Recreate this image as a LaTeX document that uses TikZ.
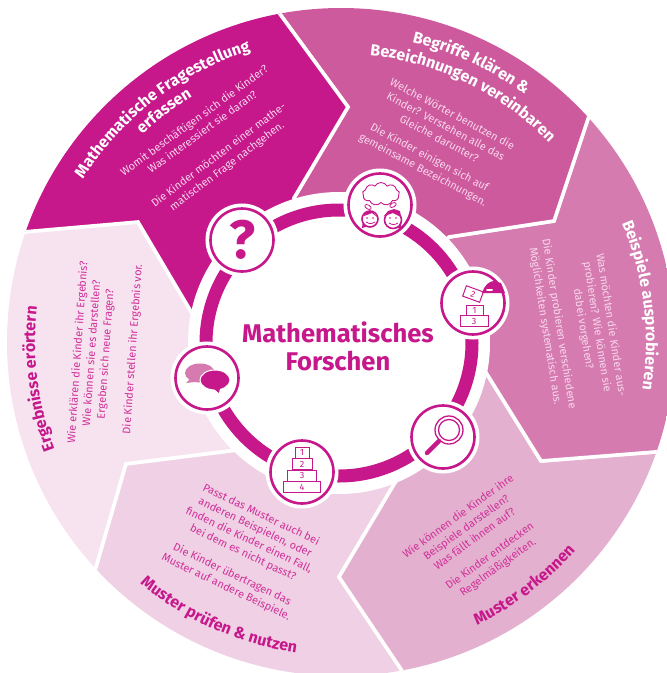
\documentclass[tikz,border=0pt]{standalone}
\usepackage{fontspec}
\setmainfont{Fira Sans}
\usetikzlibrary{decorations.text,shapes.symbols}
\definecolor{magA}{HTML}{C6178B}
\definecolor{magB}{HTML}{CE5A9E}
\definecolor{magC}{HTML}{D67BB0}
\definecolor{magD}{HTML}{E4B0CF}
\definecolor{magE}{HTML}{EFD0E4}
\definecolor{magF}{HTML}{F6E3EF}
\definecolor{inkA}{HTML}{F8D8EC}
\definecolor{inkB}{HTML}{D02F98}
\tikzset{
  segment/.style={draw=white,line width=3.6pt,line join=miter},
  bodytext/.style={align=center,font=\fontsize{10.9}{14}\selectfont,inner sep=0pt},
  arctitle/.style 2 args={decorate,decoration={text along path,text align=center,
    text={|\fontsize{16}{18}\selectfont\bfseries\color{#1}|#2}}},
  iconcircle/.style={circle,fill=white,draw=magA,line width=2.6pt,minimum size=63pt,inner sep=0pt,
    preaction={draw=white,line width=10pt}},
  iconbox/.style={draw=magA,line width=1pt,fill=white,inner sep=0pt,text=magA,font=\fontsize{9}{9}\selectfont},
}
\begin{document}
\begin{tikzpicture}[x=1pt,y=-1pt]
  \useasboundingbox (0,0) rectangle (667,673);
  \coordinate (c) at (339,343);
  \coordinate (o) at (341,342);
  \begin{scope}
    \clip (o) circle (334);
    \draw[segment,fill=magF] (c) -- (193,315) -- (138,222) -- (0,234) -- (-20,400) -- (88,595) -- (126,464) -- (238,450) -- cycle;
    \draw[segment,fill=magE] (c) -- (238,450) -- (126,464) -- (88,595) -- (200,720) -- (415,690) -- (339,577) -- (396,481) -- cycle;
    \draw[segment,fill=magD] (c) -- (396,481) -- (339,577) -- (415,690) -- (620,700) -- (680,450) -- (541,461) -- (485,371) -- cycle;
    \draw[segment,fill=magC] (c) -- (485,371) -- (541,461) -- (680,450) -- (700,270) -- (595,98) -- (554,221) -- (449,237) -- cycle;
    \draw[segment,fill=magB] (c) -- (449,237) -- (554,221) -- (595,98) -- (520,-10) -- (266,-5) -- (348,107) -- (294,198) -- cycle;
    \draw[segment,fill=magA] (c) -- (294,198) -- (348,107) -- (266,-5) -- (60,10) -- (0,234) -- (138,222) -- (193,315) -- cycle;
  \end{scope}
  % middle disc
  \fill[white] (c) circle (151);
  \draw[magA,line width=13pt] (c) circle (133);
  \node[font=\fontsize{25.6}{28}\selectfont\bfseries,text=magA,align=center,inner sep=0pt] (centre) at (338,346) {Mathematisches\\Forschen};
  % titles
  \path[arctitle={white}{Mathematische Fragestellung}] (o) ++(-152:305) arc (-152:-103:305);
  \path[arctitle={white}{erfassen}] (o) ++(-152:287) arc (-152:-103:287);
  \path[arctitle={white}{Begriffe klären {\&}}] (o) ++(-90:308) arc (-90:-40:308);
  \path[arctitle={white}{Bezeichnungen vereinbaren}] (o) ++(-90:288) arc (-90:-38:288);
  \path[arctitle={white}{Beispiele ausprobieren}] (o) ++(-32:305) arc (-32:18:305);
  \path[arctitle={magA}{Muster erkennen}] (o) ++(78:314) arc (78:28:314);
  \path[arctitle={magA}{Muster prüfen {\&} nutzen}] (o) ++(139:314) arc (139:89:314);
  \path[arctitle={magA}{Ergebnisse erörtern}] (o) ++(148:306) arc (148:198:306);
  % body texts
  \node[bodytext,text=inkA,rotate=36] (frageA) at (198,126) {Womit beschäftigen sich die Kinder?\\Was interessiert sie daran?};
  \node[bodytext,text=inkA,rotate=37] (frageB) at (223,161) {Die Kinder möchten einer mathe-\\matischen Frage nachgehen.};
  \node[bodytext,text=inkA,rotate=-28] (begriffA) at (446,126) {Welche Wörter benutzen die\\Kinder? Verstehen alle das\\Gleiche darunter?};
  \node[bodytext,text=inkA,rotate=-28] (begriffB) at (426,164) {Die Kinder einigen sich auf\\gemeinsame Bezeichnungen.};
  \node[bodytext,text=inkA,rotate=-81] (beispielA) at (597,327) {Was möchten die Kinder aus-\\probieren? Wie können sie\\dabei vorgehen?};
  \node[bodytext,text=inkA,rotate=-81] (beispielB) at (552,325) {Die Kinder probieren verschiedene\\Möglichkeiten systematisch aus.};
  \node[bodytext,text=inkB,rotate=36] (musterA) at (466,527) {Wie können die Kinder ihre\\Beispiele darstellen?\\Was fällt ihnen auf?};
  \node[bodytext,text=inkB,rotate=36] (musterB) at (494,562) {Die Kinder entdecken\\Regelmäßigkeiten.};
  \node[bodytext,text=inkB,rotate=-25.5] (pruefA) at (252,534) {Passt das Muster auch bei\\anderen Beispielen, oder\\finden die Kinder einen Fall,\\bei dem es nicht passt?};
  \node[bodytext,text=inkB,rotate=-25.5] (pruefB) at (229,581) {Die Kinder übertragen das\\Muster auf andere Beispiele.};
  \node[bodytext,text=inkB,rotate=86] (ergebA) at (92,353) {Wie erklären die Kinder ihr Ergebnis?\\Wie können sie es darstellen?\\Ergeben sich neue Fragen?};
  \node[bodytext,text=inkB,rotate=86] (ergebB) at (133,349) {Die Kinder stellen ihr Ergebnis vor.};
  % icon discs
  \node[iconcircle] (frage) at (242,240) {};
  \node[iconcircle] (denken) at (380,205) {};
  \node[iconcircle] (probe) at (473,303) {};
  \node[iconcircle] (lupe) at (443,437) {};
  \node[iconcircle] (turm) at (302,472) {};
  \node[iconcircle] (reden) at (207,378) {};
  % question mark
  \node[font=\fontsize{54}{54}\selectfont\bfseries,text=magA,inner sep=0pt] (qmark) at (frage) {?};
  % thinking
  \node[cloud,cloud puffs=9,cloud puff arc=120,aspect=1.6,draw=magA,line width=.9pt,minimum width=37pt,minimum height=23pt,inner sep=0pt] (wolke) at (381,194) {};
  \draw[magA,line width=.8pt,rotate around={-30:(368,207)}] (368,207) ellipse (3.5 and 2);
  \draw[magA,line width=.8pt,rotate around={30:(393,205)}] (393,205) ellipse (3.5 and 2);
  \fill[magA] (363,220) -- (362,228) -- (369,226) -- cycle;
  \fill[magA] (401,221) -- (401,229) -- (395,227) -- cycle;
  \draw[magA,line width=1.6pt,fill=white] (370,219) circle (8);
  \draw[magA,line width=1.6pt,fill=white] (393,220) circle (8.5);
  \fill[magA] (393,213) -- (401,217) -- (400,211) -- (394,209) -- (388,211) -- (384,216) -- cycle;
  \fill[magA] (364,216) -- (372,213) -- (377,217) -- (372,211) -- (365,212) -- cycle;
  \draw[magA,line width=.8pt] (366,222) to[bend right=35] (375,222);
  \draw[magA,line width=.8pt] (389,223) to[bend right=35] (398,223);
  \fill[magA] (367,218) circle (.8) (373,218) circle (.8) (390,218) circle (.8) (396,218) circle (.8);
  % trying out
  \node[iconbox,minimum width=28pt,minimum height=11pt] (drei) at (474,321) {3};
  \node[iconbox,minimum width=17pt,minimum height=10pt] (eins) at (474.5,310) {1};
  \node[iconbox,minimum width=18pt,minimum height=11pt,rotate=-20] (zwei) at (473,294) {2};
  \fill[magA] (482,293) .. controls (484,286) and (489,281) .. (494,281) -- (501,283) -- (505,293) -- cycle;
  \draw[white,line width=2pt,line cap=round] (487,290) -- (492,290);
  % magnifier
  \draw[magA,line width=1.3pt] (449,430) circle (14);
  \draw[magA,line width=1.3pt] (449,430) circle (10.5);
  \draw[magA,line width=4.4pt,line cap=round] (439,441) -- (427,453);
  % tower
  \node[iconbox,minimum width=37pt,minimum height=11pt] (vier) at (302,487) {4};
  \node[iconbox,minimum width=29pt,minimum height=11pt] (dreiT) at (302,475.5) {3};
  \node[iconbox,minimum width=20pt,minimum height=11pt] (zweiT) at (302,464) {2};
  \node[iconbox,minimum width=14pt,minimum height=11pt] (einsT) at (302,452.5) {1};
  % talking
  \fill[magC] (200,373) ellipse (15 and 9.5);
  \fill[magC] (190,379) -- (186,383) -- (195,382) -- cycle;
  \fill[magA,draw=white,line width=1pt] (215,380) ellipse (15 and 10);
  \fill[magA] (213,388) -- (219,393) -- (220,388) -- cycle;
\end{tikzpicture}
\end{document}
